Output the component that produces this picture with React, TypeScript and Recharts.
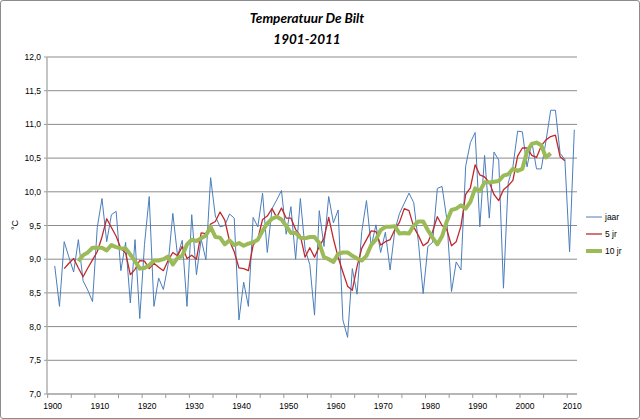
import { LineChart, Line, XAxis, YAxis, CartesianGrid } from 'recharts';

// jaargemiddelde temperatuur De Bilt, 1901 t/m 2011
const FIRST_YEAR = 1901;
const JAAR = [
  8.90, 8.30, 9.26, 9.03, 8.81, 9.29, 8.68, 8.54, 8.37, 9.47,
  9.90, 9.26, 9.66, 9.71, 8.83, 9.25, 8.35, 9.29, 8.12, 9.22,
  9.93, 8.30, 8.72, 8.55, 8.92, 9.68, 9.05, 9.28, 8.30, 9.66,
  8.77, 9.30, 8.99, 10.21, 9.64, 9.48, 9.50, 9.67, 9.61, 8.10,
  8.66, 8.30, 9.62, 9.48, 9.98, 9.10, 9.75, 9.88, 10.02, 9.37,
  9.78, 9.00, 9.90, 9.15, 8.92, 8.17, 9.72, 9.19, 9.93, 9.54,
  9.73, 8.10, 7.84, 8.86, 8.48, 9.41, 9.87, 9.19, 9.51, 9.10,
  9.40, 8.84, 9.43, 9.68, 9.83, 9.98, 9.84, 9.25, 8.49, 9.19,
  9.25, 10.05, 10.08, 9.60, 8.52, 8.96, 8.84, 10.38, 10.73, 10.88,
  9.48, 10.54, 9.61, 10.59, 10.47, 8.57, 10.13, 10.37, 10.90, 10.89,
  10.37, 10.74, 10.34, 10.34, 10.75, 11.21, 11.21, 10.57, 10.48, 9.11,
  10.92,
];

// 5-jarig gemiddelde, 1903 t/m 2009
const VIJF_JR_START = 1903;
const VIJF_JR = [
  8.86, 8.94, 9.01, 8.87, 8.74, 8.87, 8.99, 9.11,
  9.33, 9.60, 9.47, 9.34, 9.16, 9.09, 8.77, 8.85, 8.98, 8.97,
  8.86, 8.94, 8.88, 8.83, 8.98, 9.10, 9.05, 9.19, 9.01, 9.06,
  9.00, 9.39, 9.38, 9.52, 9.56, 9.70, 9.58, 9.27, 9.11, 8.87,
  8.86, 8.83, 9.21, 9.30, 9.59, 9.64, 9.75, 9.62, 9.76, 9.61,
  9.61, 9.44, 9.35, 9.03, 9.17, 9.03, 9.19, 9.31, 9.62, 9.30,
  9.03, 8.81, 8.60, 8.54, 8.89, 9.16, 9.29, 9.42, 9.41, 9.21,
  9.26, 9.29, 9.44, 9.55, 9.75, 9.72, 9.48, 9.35, 9.20, 9.25,
  9.41, 9.63, 9.50, 9.44, 9.20, 9.26, 9.49, 9.96, 10.06, 10.40,
  10.25, 10.22, 10.14, 9.96, 9.87, 10.03, 10.09, 10.17, 10.53, 10.65,
  10.65, 10.54, 10.51, 10.68, 10.77, 10.82, 10.84, 10.52, 10.46,
];

// 10-jarig gemiddelde, 1906 t/m 2006
const TIEN_JR_START = 1906;
const TIEN_JR = [
  8.97, 9.06, 9.10, 9.17, 9.17,
  9.17, 9.13, 9.21, 9.18, 9.16, 9.16, 9.07, 8.97, 8.86, 8.87,
  8.91, 8.98, 8.98, 9.00, 9.04, 8.92, 9.02, 9.05, 9.22, 9.29,
  9.27, 9.31, 9.35, 9.48, 9.33, 9.32, 9.22, 9.28, 9.21, 9.24,
  9.20, 9.23, 9.25, 9.29, 9.42, 9.53, 9.60, 9.63, 9.59, 9.49,
  9.39, 9.39, 9.32, 9.31, 9.33, 9.33, 9.24, 9.03, 9.00, 8.96,
  9.08, 9.10, 9.10, 9.05, 9.01, 8.98, 9.05, 9.21, 9.29, 9.43,
  9.48, 9.48, 9.49, 9.38, 9.39, 9.38, 9.50, 9.56, 9.56, 9.43,
  9.32, 9.22, 9.34, 9.56, 9.73, 9.75, 9.80, 9.75, 9.85, 10.05,
  10.01, 10.14, 10.14, 10.15, 10.16, 10.24, 10.26, 10.34, 10.31, 10.34,
  10.60, 10.71, 10.73, 10.69, 10.51, 10.57,
];

const Y_TICKS = [7, 7.5, 8, 8.5, 9, 9.5, 10, 10.5, 11, 11.5, 12];
// tick marks sit between categories, labels every 10 years
const X_TICKS = [
  1899.5, 1904.5, 1909.5, 1914.5, 1919.5, 1924.5, 1929.5, 1934.5, 1939.5, 1944.5, 1949.5, 1954.5,
  1959.5, 1964.5, 1969.5, 1974.5, 1979.5, 1984.5, 1989.5, 1994.5, 1999.5, 2004.5, 2009.5,
];

const SERIES = [
  { key: 'jaar', name: 'jaar', color: '#4a7ebb', width: 1 },
  { key: 'vijf', name: '5 jr', color: '#c0282d', width: 1.3 },
  { key: 'tien', name: '10 jr', color: '#9bbb59', width: 4 },
];

const rows = JAAR.map((v, i) => {
  const year = FIRST_YEAR + i;
  const a = VIJF_JR[year - VIJF_JR_START];
  const b = TIEN_JR[year - TIEN_JR_START];
  return { year, jaar: v, vijf: a ?? null, tien: b ?? null };
});

const FONT = '"Liberation Sans", Arial, sans-serif';

function XTick({ x, y, payload }: any) {
  const v = payload.value as number;
  const label = (v + 0.5) % 10 === 0 ? String(v + 0.5) : null;
  return (
    <g>
      <line x1={x} x2={x} y1={y} y2={y + 4} stroke="#9a9a9a" />
      {label && (
        <text x={x + 5} y={y + 15} textAnchor="middle" fontSize={8.5} fontFamily={FONT} fill="#000">
          {label}
        </text>
      )}
    </g>
  );
}

function LegendBox() {
  return (
    <div
      style={{
        position: 'absolute', left: 584, top: 207, fontFamily: FONT, fontSize: 8.5, color: '#000',
      }}
    >
      {SERIES.map((s) => (
        <div key={s.key} style={{ display: 'flex', alignItems: 'center', height: 17 }}>
          <svg width={18} height={8}>
            <line x1={1} x2={17} y1={4} y2={4} stroke={s.color} strokeWidth={s.width} />
          </svg>
          <span style={{ marginLeft: 2 }}>{s.name}</span>
        </div>
      ))}
    </div>
  );
}

export default function App() {
  return (
    <div
      style={{
        position: 'absolute', left: 0, top: 0, width: 640, height: 419,
        boxSizing: 'border-box', border: '1px solid #8c8c8c', borderRadius: 3, background: '#fff',
      }}
    >
      <div
        style={{
          position: 'absolute', left: 0, top: 7, width: 612, textAlign: 'center',
          fontFamily: 'Lato, sans-serif', fontWeight: 700, fontStyle: 'italic', fontSize: 13.5, lineHeight: '21px',
        }}
      >
        <div>Temperatuur De Bilt</div>
        <div>1901-2011</div>
      </div>
      <div
        style={{
          position: 'absolute', left: 9, top: 219, fontFamily: FONT, fontSize: 9,
          transform: 'rotate(-90deg)',
        }}
      >
        °C
      </div>
      <LineChart
        width={638}
        height={417}
        data={rows}
        margin={{ top: 56, right: 62, bottom: 4, left: 6 }}
        style={{ position: 'absolute', left: 0, top: 0 }}
      >
        <CartesianGrid vertical={false} stroke="#8c8c8c" />
        <XAxis
          dataKey="year"
          type="number"
          domain={[1899.36, 2011.57]}
          allowDataOverflow
          ticks={X_TICKS}
          interval={0}
          tick={<XTick />}
          tickLine={false}
          tickSize={0}
          tickMargin={0}
          height={20}
          axisLine={{ stroke: '#b0b0b0', strokeWidth: 1.5 }}
        />
        <YAxis
          type="number"
          domain={[7, 12]}
          ticks={Y_TICKS}
          interval={0}
          width={40}
          tickFormatter={(v: number) => v.toFixed(1).replace('.', ',')}
          tick={{ fontSize: 8.5, fontFamily: FONT, fill: '#000' }}
          tickSize={3}
          tickMargin={3}
          tickLine={{ stroke: '#9a9a9a' }}
          axisLine={{ stroke: '#b0b0b0', strokeWidth: 1.5 }}
        />
        {SERIES.map((s) => (
          <Line
            key={s.key}
            dataKey={s.key}
            name={s.name}
            type="linear"
            stroke={s.color}
            strokeWidth={s.width}
            strokeLinejoin="round"
            dot={false}
            connectNulls={false}
            isAnimationActive={false}
          />
        ))}
      </LineChart>
      <LegendBox />
    </div>
  );
}
